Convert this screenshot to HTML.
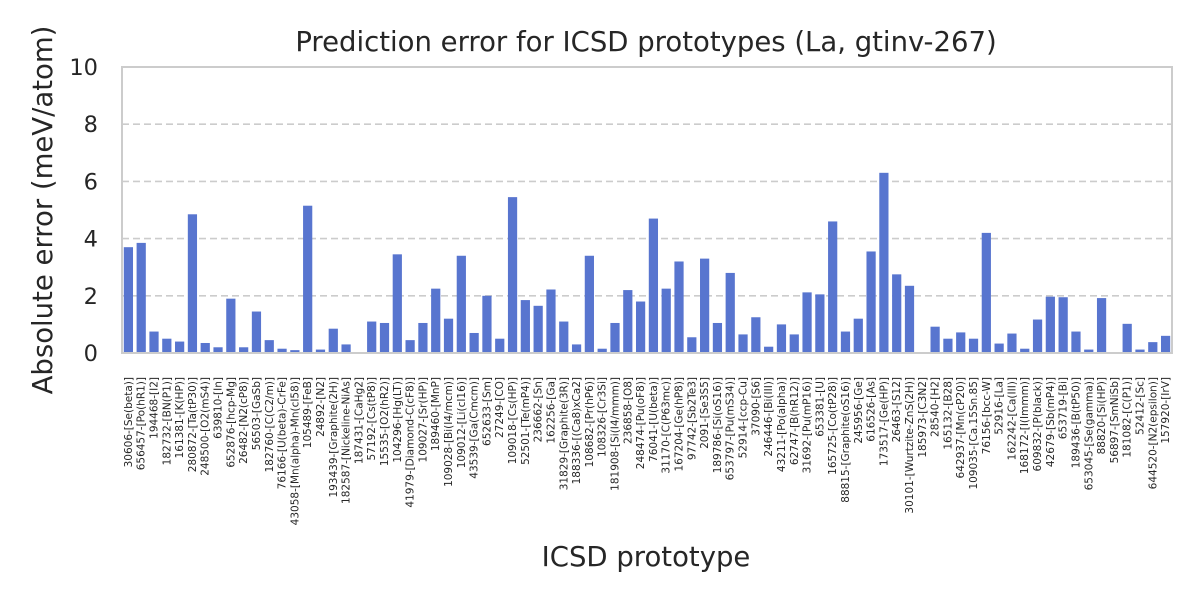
<!DOCTYPE html>
<html><head><meta charset="utf-8"><style>
html,body{margin:0;padding:0;background:#fff;}
svg text{font-family:"DejaVu Sans","Liberation Sans",sans-serif;fill:#262626;}
</style></head><body>
<svg id="chart" width="1200" height="600" xmlns="http://www.w3.org/2000/svg"></svg>
<script>
const categories = ["30606-[Se(beta)]","656457-[Po(hR1)]","194468-[I2]","182732-[BN(P1)]","161381-[K(HP)]","280872-[Ta(tP30)]","248500-[O2(mS4)]","639810-[In]","652876-[hcp-Mg]","26482-[N2(cP8)]","56503-[GaSb]","182760-[C(C2/m)]","76166-[U(beta)-CrFe]","43058-[Mn(alpha)-Mn(cI58)]","105489-[FeB]","24892-[N2]","193439-[Graphite(2H)]","182587-[Nickeline-NiAs]","187431-[CaHg2]","57192-[Cs(tP8)]","15535-[O2(hR2)]","104296-[Hg(LT)]","41979-[Diamond-C(cF8)]","109027-[Sr(HP)]","189460-[MnP]","109028-[Bi(I4/mcm)]","109012-[Li(cI16)]","43539-[Ga(Cmcm)]","652633-[Sm]","27249-[CO]","109018-[Cs(HP)]","52501-[Te(mP4)]","236662-[Sn]","162256-[Ga]","31829-[Graphite(3R)]","188336-[(Ca8)xCa2]","108682-[Pr(hP6)]","108326-[Cr3Si]","181908-[Si(I4/mmm)]","236858-[O8]","248474-[Pu(oF8)]","76041-[U(beta)]","31170-[C(P63mc)]","167204-[Ge(hP8)]","97742-[Sb2Te3]","2091-[Se3S5]","189786-[Si(oS16)]","653797-[Pu(mS34)]","52914-[ccp-Cu]","37090-[S6]","246446-[Bi(III)]","43211-[Po(alpha)]","62747-[B(hR12)]","31692-[Pu(mP16)]","653381-[U]","165725-[Co(tP28)]","88815-[Graphite(oS16)]","245956-[Ge]","616526-[As]","173517-[Ge(HP)]","26463-[S12]","30101-[Wurtzite-ZnS(2H)]","185973-[C3N2]","28540-[H2]","165132-[B28]","642937-[Mn(cP20)]","109035-[Ca.15Sn.85]","76156-[bcc-W]","52916-[La]","162242-[Ca(III)]","168172-[I(Immm)]","609832-[P(black)]","42679-[Sb(mP4)]","653719-[Bi]","189436-[B(tP50)]","653045-[Se(gamma)]","88820-[Si(HP)]","56897-[SmNiSb]","181082-[C(P1)]","52412-[Sc]","644520-[N2(epsilon)]","157920-[IrV]"];
const errors = [3.7,3.85,0.75,0.5,0.4,4.85,0.35,0.2,1.9,0.2,1.45,0.45,0.15,0.1,5.15,0.12,0.85,0.3,0,1.1,1.05,3.45,0.45,1.05,2.25,1.2,3.4,0.7,2.0,0.5,5.45,1.85,1.65,2.22,1.1,0.3,3.4,0.15,1.05,2.2,1.8,4.7,2.25,3.2,0.55,3.3,1.05,2.8,0.65,1.25,0.22,1.0,0.65,2.12,2.05,4.6,0.75,1.2,3.55,6.3,2.75,2.35,0,0.92,0.5,0.72,0.5,4.2,0.33,0.68,0.15,1.17,1.97,1.95,0.75,0.12,1.92,0,1.02,0.12,0.38,0.6];
const yTicks = [0,2,4,6,8,10];

const NS="http://www.w3.org/2000/svg";
const svg=document.getElementById('chart');
const L=122,R=1172,T=67,B=353,yMax=10;
const step=(R-L)/categories.length;
const xC=i=>L+step*(i+0.5);
const y=v=>B-(v/yMax)*(B-T);
function mk(tag,attrs,parent){const e=document.createElementNS(NS,tag);for(const k in attrs)e.setAttribute(k,attrs[k]);(parent||svg).appendChild(e);return e;}

yTicks.forEach(t=>{
  if(t>0&&t<yMax){const g=mk('line',{x1:L,x2:R,y1:y(t),y2:y(t),stroke:'#cccccc','stroke-width':1.6,'stroke-dasharray':'7,4'});
  
  }
  const tx=mk('text',{x:98,y:y(t)+8,'text-anchor':'end','font-size':22.5});
  tx.textContent=t;
  
  
});
const bw=step*0.72;
errors.forEach((v,i)=>{
  const r=mk('rect',{x:xC(i)-bw/2,y:y(v),width:bw,height:B-y(v),fill:'#5875cf'});
  
  
});
const f=mk('rect',{x:L,y:T,width:R-L,height:B-T,fill:'none',stroke:'#cccccc','stroke-width':2});


categories.forEach((c,i)=>{
  const x=xC(i)+3.5;
  const t=mk('text',{x:x,y:377,'text-anchor':'end','font-size':10.5,transform:`rotate(-90 ${x} 377)`});
  t.textContent=c;
  
  
});
const ti=mk('text',{x:646,y:51,'text-anchor':'middle','font-size':27.5});
ti.textContent='Prediction error for ICSD prototypes (La, gtinv-267)';


const xt=mk('text',{x:646,y:566,'text-anchor':'middle','font-size':27.5});
xt.textContent='ICSD prototype';


const yt=mk('text',{x:52,y:210,'text-anchor':'middle','font-size':27.5,transform:'rotate(-90 52 210)'});
yt.textContent='Absolute error (meV/atom)';


</script>
</body></html>
